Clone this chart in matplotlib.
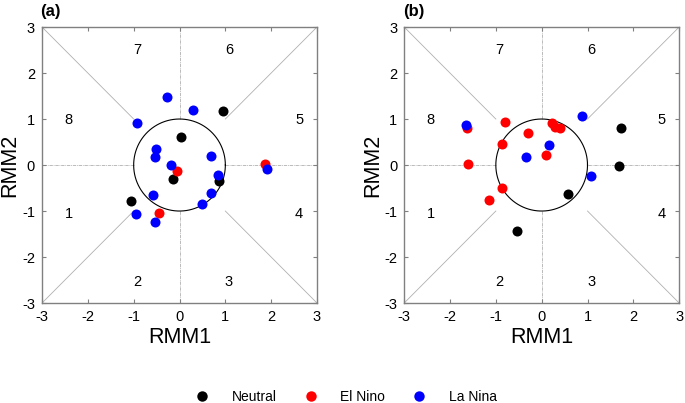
import numpy as np
import matplotlib
matplotlib.use("Agg")
from matplotlib import pyplot as plt
from matplotlib.lines import Line2D

plt.rcParams['font.family'] = ['Liberation Sans', 'DejaVu Sans']
plt.rcParams['axes.unicode_minus'] = False

# panel (a)
a_neutral_x = [0.95, 0.03, -0.15, 0.86, -1.05]
a_neutral_y = [1.18, 0.61, -0.31, -0.34, -0.78]
a_elnino_x = [-0.05, -0.44, 1.86]
a_elnino_y = [-0.13, -1.04, 0.02]
a_lanina_x = [-0.27, 0.29, -0.93, -0.52, -0.53, -0.18, 0.68, 0.85, 0.69, 0.49, -0.58, -0.95, -0.54, 1.90]
a_lanina_y = [1.48, 1.19, 0.91, 0.35, 0.18, 0.01, 0.20, -0.21, -0.61, -0.84, -0.66, -1.06, -1.23, -0.09]

# panel (b)
b_neutral_x = [1.74, 1.69, 0.57, -0.53]
b_neutral_y = [0.81, -0.02, -0.64, -1.44]
b_elnino_x = [-1.62, -1.60, -0.80, -0.29, -0.86, -0.86, -1.14, 0.09, 0.23, 0.30, 0.41]
b_elnino_y = [0.80, 0.02, 0.94, 0.70, 0.45, -0.51, -0.76, 0.22, 0.92, 0.82, 0.80]
b_lanina_x = [-1.66, 0.88, 0.16, -0.35, 1.08]
b_lanina_y = [0.87, 1.07, 0.43, 0.17, -0.24]

phase_labels = ['1', '2', '3', '4', '5', '6', '7', '8']
phase_x = [-2.42, -0.93, 1.08, 2.61, 2.61, 1.08, -0.93, -2.42]
phase_y = [-1.06, -2.55, -2.55, -1.06, 0.97, 2.49, 2.49, 0.97]


def draw_phase(ax, neutral, elnino, lanina, label):
    ax.set_xlim(-3, 3)
    ax.set_ylim(-3, 3)
    # octant lines
    lk = dict(color='#b0b0b0', lw=0.6, zorder=1)
    for sx in (-1, 1):
        for sy in (-1, 1):
            ax.plot([sx, 3 * sx], [sy, 3 * sy], ls='-', **lk)
    for s in (-1, 1):
        ax.plot([s, 3 * s], [0, 0], ls=(0, (4, 1, 1, 1)), **lk)
        ax.plot([0, 0], [s, 3 * s], ls=(0, (4, 1, 1, 1)), **lk)
    t = np.linspace(0, 2 * np.pi, 200)
    ax.plot(np.cos(t), np.sin(t), color='black', lw=0.8, zorder=2)
    for lab, px, py in zip(phase_labels, phase_x, phase_y):
        ax.text(px, py, lab, ha='center', va='center', fontsize=10.5)
    ax.scatter(*neutral, s=52, color='black', zorder=3, linewidths=0)
    ax.scatter(*elnino, s=52, color='#ff0000', zorder=4, linewidths=0)
    ax.scatter(*lanina, s=52, color='#0000ff', zorder=5, linewidths=0)
    ax.set_xticks(range(-3, 4))
    ax.set_yticks(range(-3, 4))
    ax.tick_params(direction='in', top=True, right=True, length=3,
                   labelsize=10.5, color='#808080', pad=5)
    for sp in ax.spines.values():
        sp.set_color('#808080')
        sp.set_linewidth(1)
    ax.set_xlabel('RMM1', fontsize=15.5, labelpad=2)
    ax.set_ylabel('RMM2', fontsize=15.5, labelpad=1)
    ax.text(-0.005, 1.03, label, transform=ax.transAxes, fontsize=12,
            fontweight='bold', ha='left', va='bottom')


fig = plt.figure(figsize=(6.85, 4.03), dpi=100)
ax1 = fig.add_axes([0.0613, 0.248, 0.4015, 0.685])
ax2 = fig.add_axes([0.590, 0.248, 0.4015, 0.685])

draw_phase(ax1, (a_neutral_x, a_neutral_y), (a_elnino_x, a_elnino_y),
           (a_lanina_x, a_lanina_y), '(a)')
draw_phase(ax2, (b_neutral_x, b_neutral_y), (b_elnino_x, b_elnino_y),
           (b_lanina_x, b_lanina_y), '(b)')

handles = [Line2D([], [], ls='', marker='o', markersize=7.5, color=c, markeredgewidth=0)
           for c in ('black', '#ff0000', '#0000ff')]
fig.legend(handles, ['Neutral', 'El Nino', 'La Nina'], loc='center',
           bbox_to_anchor=(0.5, 0.014), ncol=3, frameon=False, fontsize=10,
           handletextpad=1.15, columnspacing=1.45)

fig.savefig('out.png', dpi=100)
